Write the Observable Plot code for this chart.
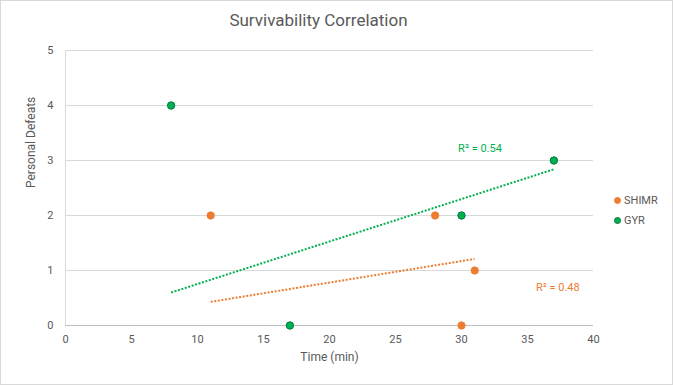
<!DOCTYPE html>
<html><head><meta charset="utf-8">
<script src="https://cdn.jsdelivr.net/npm/d3@7"></script>
<script src="https://cdn.jsdelivr.net/npm/@observablehq/plot@0.6"></script>
<style>
body{margin:0;background:#fff;font-family:Roboto,"Liberation Sans",sans-serif}
#chart{position:relative;width:673px;height:385px;box-sizing:border-box;border:1px solid #d9d9d9;background:#fff;overflow:hidden}
#title{height:36px;box-sizing:border-box;padding-top:8px;font-size:17px;line-height:22px;text-align:center;color:#595959;padding-right:36px}
#legend{position:absolute;left:613px;top:189px;font-size:11px;color:#595959}
#legend div{display:flex;align-items:center;height:20px}
#legend span.dot{display:inline-block;width:7px;height:7px;border-radius:50%;margin-right:3px;box-sizing:border-box}
svg text{font-family:Roboto,"Liberation Sans",sans-serif}
</style>
</head><body>
<div id="chart">
  <div id="title"></div>
  <div id="legend"></div>
</div>
<script>
const chartTitle = "Survivability Correlation";
const xLabel = "Time (min)";
const yLabel = "Personal Defeats";
const seriesNames = ["SHIMR", "GYR"];
const seriesColors = ["#ED7D31", "#00B050"];
const seriesStrokes = ["#ED7D31", "#007A3D"];
const shimrX = [11, 28, 31, 30];
const shimrY = [2, 2, 1, 0];
const gyrX = [8, 17, 30, 37];
const gyrY = [4, 0, 2, 3];
const shimrTrendX = [11, 31];
const shimrTrendY = [0.43, 1.21];
const gyrTrendX = [8, 37];
const gyrTrendY = [0.6, 2.84];
const r2Labels = ["R\u00B2 = 0.48", "R\u00B2 = 0.54"];
const r2X = [37.3, 31.4];
const r2Y = [0.69, 3.22];
const xTicks = [0, 5, 10, 15, 20, 25, 30, 35, 40];
const yTicks = [0, 1, 2, 3, 4, 5];

document.getElementById("title").textContent = chartTitle;
const legend = document.getElementById("legend");
seriesNames.forEach((n, i) => {
  const row = document.createElement("div");
  const dot = document.createElement("span");
  dot.className = "dot";
  dot.style.background = seriesColors[i];
  dot.style.border = "1px solid " + seriesStrokes[i];
  row.appendChild(dot);
  row.appendChild(document.createTextNode(n));
  legend.appendChild(row);
});

const shimr = shimrX.map((x, i) => ({x, y: shimrY[i]}));
const gyr = gyrX.map((x, i) => ({x, y: gyrY[i]}));
const shimrTrend = shimrTrendX.map((x, i) => ({x, y: shimrTrendY[i]}));
const gyrTrend = gyrTrendX.map((x, i) => ({x, y: gyrTrendY[i]}));
const r2 = r2Labels.map((t, i) => ({t, x: r2X[i], y: r2Y[i], c: seriesColors[i]}));

const plot = Plot.plot({
  width: 671,
  height: 347,
  marginLeft: 64,
  marginRight: 79,
  marginTop: 13,
  marginBottom: 59,
  style: {fontSize: "11px", color: "#595959", background: "#fff"},
  x: {domain: [0, 40], ticks: xTicks, tickSize: 0, tickPadding: 10, label: null},
  y: {domain: [0, 5], ticks: yTicks, tickSize: 0, tickPadding: 12, label: null},
  marks: [
    Plot.gridY(yTicks, {stroke: "#d9d9d9", strokeOpacity: 1, strokeWidth: 1}),
    Plot.ruleX([0], {stroke: "#d9d9d9", y1: 0, y2: 5}),
    Plot.ruleY([0], {stroke: "#bfbfbf"}),
    Plot.axisX({ticks: xTicks, tickSize: 0, tickPadding: 10, label: null, fill: "#595959"}),
    Plot.axisY({ticks: yTicks, tickSize: 0, tickPadding: 12, tickFormat: "d", label: null, fill: "#595959"}),
    Plot.line(gyrTrend, {x: "x", y: "y", stroke: seriesColors[1], strokeWidth: 2, strokeDasharray: "2,1.6", strokeLinecap: "butt"}),
    Plot.line(shimrTrend, {x: "x", y: "y", stroke: seriesColors[0], strokeWidth: 2, strokeDasharray: "2,1.6", strokeLinecap: "butt"}),
    Plot.dot(shimr, {x: "x", y: "y", r: 3.7, fill: seriesColors[0], stroke: seriesStrokes[0], strokeWidth: 0.8}),
    Plot.dot(gyr, {x: "x", y: "y", r: 3.7, fill: seriesColors[1], stroke: seriesStrokes[1], strokeWidth: 1}),
    Plot.text(r2, {x: "x", y: "y", text: "t", fill: "c", fontSize: 11}),
    Plot.text([xLabel], {frameAnchor: "bottom", dy: 35, fill: "#595959", fontSize: 12}),
    Plot.text([yLabel], {frameAnchor: "left", dx: -34, rotate: -90, fill: "#595959", fontSize: 12})
  ]
});
document.getElementById("chart").insertBefore(plot, document.getElementById("legend"));
</script>
</body></html>
